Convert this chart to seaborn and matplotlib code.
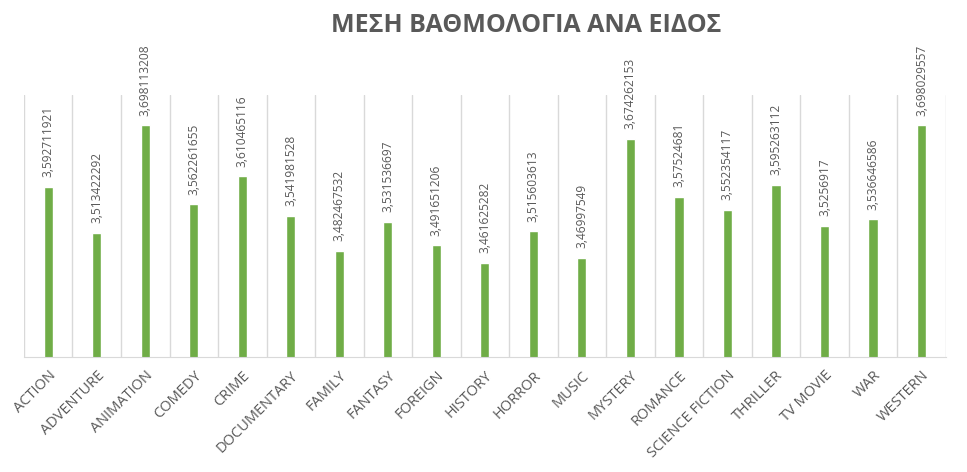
import seaborn as sns
import matplotlib.pyplot as plt
import pandas as pd

genres = ['ACTION', 'ADVENTURE', 'ANIMATION', 'COMEDY', 'CRIME', 'DOCUMENTARY',
          'FAMILY', 'FANTASY', 'FOREIGN', 'HISTORY', 'HORROR', 'MUSIC', 'MYSTERY',
          'ROMANCE', 'SCIENCE FICTION', 'THRILLER', 'TV MOVIE', 'WAR', 'WESTERN']
ratings = [3.592711921, 3.513422292, 3.698113208, 3.562261655, 3.610465116,
           3.541981528, 3.482467532, 3.531536697, 3.491651206, 3.461625282,
           3.515603613, 3.46997549, 3.674262153, 3.57524681, 3.552354117,
           3.595263112, 3.5256917, 3.536646586, 3.698029557]
title = 'ΜΕΣΗ ΒΑΘΜΟΛΟΓΙΑ ΑΝΑ ΕΙΔΟΣ'

df = pd.DataFrame({'genre': genres, 'rating': ratings})

sns.set_style('white')
plt.rcParams['font.family'] = ['Open Sans', 'DejaVu Sans']

grey = '#595959'
fig = plt.figure(figsize=(9.67, 4.72), dpi=100)
ax = fig.add_axes([0.0248, 0.2436, 0.9532, 0.5551])

sns.barplot(data=df, x='genre', y='rating', color='#70AD47', width=0.19,
            saturation=1, ax=ax)

ax.set_ylim(3.3, 3.75)
ax.set_xlim(-0.5, len(genres) - 0.5)

ax.bar_label(ax.containers[0],
             labels=[str(v).replace('.', ',') for v in ratings],
             rotation=90, padding=7, fontsize=8.6, color=grey)

# category separators
ax.set_xticks([i - 0.5 for i in range(len(genres) + 1)], minor=True)
ax.grid(which='minor', axis='x', color='#D9D9D9', linewidth=1)
ax.tick_params(which='both', length=0)
ax.set_yticks([])
ax.set_xlabel('')
ax.set_ylabel('')
for s in ['top', 'left', 'right']:
    ax.spines[s].set_visible(False)
ax.spines['bottom'].set_color('#D9D9D9')

ax.set_xticks(range(len(genres)))
ax.set_xticklabels(genres, rotation=45, ha='right', rotation_mode='anchor',
                   fontsize=10.5, color=grey)
ax.tick_params(axis='x', pad=8)

fig.text(0.5445, 0.947, title, ha='center', va='center', fontsize=18,
         fontweight='bold', color=grey)

plt.savefig('out.png', dpi=100)
